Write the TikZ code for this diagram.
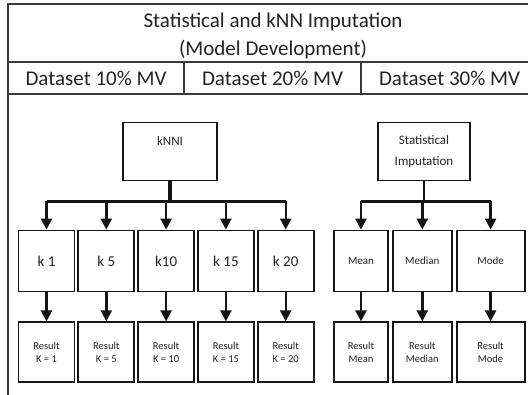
\documentclass[tikz,border=0pt]{standalone}
\usepackage{fontspec}
\setmainfont{Carlito}
\usepackage{xcolor}
\definecolor{lineDark}{HTML}{141414}
\definecolor{frameGray}{HTML}{3A3A3A}
\definecolor{textDark}{HTML}{222222}
\usetikzlibrary{positioning,calc,arrows.meta}
\tikzset{
  kBox/.style={
    rectangle,
    draw=lineDark,
    line width=1.8pt,
    minimum width=56pt,
    minimum height=61pt,
    inner sep=0pt,
    text=textDark,
    font=\fontsize{15}{18}\selectfont
 },
  resBox/.style={
    rectangle,
    draw=lineDark,
    line width=1.8pt,
    minimum height=60pt,
    inner sep=0pt,
    align=center,
    text=textDark,
    font=\fontsize{10.5}{13}\selectfont
 },
  statBox/.style={
    rectangle,
    draw=lineDark,
    line width=1.8pt,
    minimum height=61pt,
    inner sep=0pt,
    text=textDark,
    font=\fontsize{11}{13}\selectfont
 },
  topBox/.style={
    rectangle,
    draw=lineDark,
    line width=1.8pt,
    minimum width=94pt,
    minimum height=58pt,
    align=center,
    text=textDark,
    font=\fontsize{13}{21}\selectfont
 },
  headText/.style={
    align=center,
    text=textDark,
    font=\fontsize{21}{28}\selectfont
 },
  arrowLine/.style={
    -{Triangle[length=11pt,width=11pt]},
    line width=2.4pt,
    color=lineDark
 },
  busLine/.style={
    line width=2.4pt,
    color=lineDark
 },
  frameLine/.style={
    line width=1.2pt,
    color=frameGray
 }
}

\begin{document}
\begin{tikzpicture}[x=1pt,y=-1pt]
            \useasboundingbox (0,0) rectangle (528,395);
            \clip (0,0) rectangle (528,395);

            % header table
            \draw[frameLine] (8,400) -- (8,4) -- (540,4);
            \draw[frameLine] (8,62) -- (540,62);
            \draw[frameLine] (8,94) -- (540,94);
            \draw[frameLine] (184,62) -- (184,94);
            \draw[frameLine] (361,62) -- (361,94);

            \node[headText] (title) at (273,36) {Statistical and kNN Imputation\\(Model Development)};
            \node[headText] (mv10) at (96,78) {Dataset 10\% MV};
            \node[headText] (mv20) at (272.5,78) {Dataset 20\% MV};
            \node[headText] (mv30) at (449.5,78) {Dataset 30\% MV};

            % kNN branch
            \node[topBox] (knni) at (170,151.5) {kNNI\\[0pt]};

            \node[kBox] (k1) at (46.5,261) {k 1};
            \node[kBox, right=2pt of k1] (k5) {k 5};
            \node[kBox, right=2pt of k5] (k10) {k10};
            \node[kBox, right=2pt of k10] (k15) {k 15};
            \node[kBox, right=2pt of k15] (k20) {k 20};

            \node[resBox, minimum width=56pt, below=29pt of k1] (r1) {Result\\K = 1};
            \node[resBox, minimum width=56pt, below=29pt of k5] (r5) {Result\\K = 5};
            \node[resBox, minimum width=56pt, below=29pt of k10] (r10) {Result\\K = 10};
            \node[resBox, minimum width=56pt, below=29pt of k15] (r15) {Result\\K = 15};
            \node[resBox, minimum width=56pt, below=29pt of k20] (r20) {Result\\K = 20};

            \coordinate (kbus) at ($(knni.south)+(0,20)$);
            \draw[busLine, line width=3.4pt] (knni.south) -- (kbus);
            \draw[busLine] (kbus -| k1) -- (kbus -| k20);
            \foreach \k in {1,5,10,15,20} {
              \draw[arrowLine] (kbus -| k\k) -- (k\k.north);
              \draw[arrowLine] (k\k.south) -- (r\k.north);
            }

            % statistical branch
            \node[topBox, minimum width=92pt] (stat) at (424,151.5) {Statistical\\Imputation};

            \node[statBox, minimum width=54pt] (mean) at (361,261) {Mean};
            \node[statBox, minimum width=59pt, right=3pt of mean] (median) {Median};
            \node[statBox, minimum width=68pt, right=3pt of median] (mode) {Mode};

            \node[resBox, minimum width=54pt, below=29pt of mean] (rmean) {Result\\Mean};
            \node[resBox, minimum width=59pt, below=29pt of median] (rmedian) {Result\\Median};
            \node[resBox, minimum width=68pt, below=29pt of mode] (rmode) {Result\\Mode};

            \coordinate (sbus) at ($(stat.south)+(0,20)$);
            \draw[busLine] (stat.south) -- (sbus);
            \draw[busLine] (sbus -| mean) -- (sbus -| mode);
            \foreach \s in {mean,median,mode} {
              \draw[arrowLine] (sbus -| \s) -- (\s.north);
              \draw[arrowLine] (\s.south) -- (r\s.north);
            }

        \end{tikzpicture}
\end{document}
